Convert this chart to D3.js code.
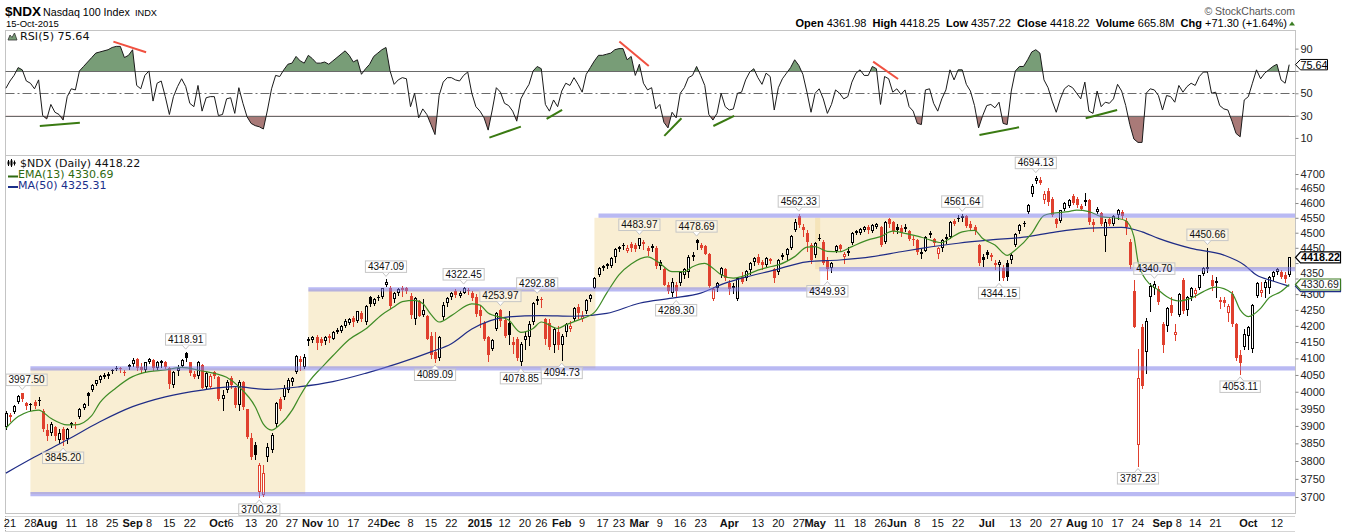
<!DOCTYPE html>
<html><head><meta charset="utf-8">
<script src="https://cdn.jsdelivr.net/npm/d3@7"></script>
<style>
html,body{margin:0;padding:0;background:#fff;}
svg{display:block;}
text{font-family:"Liberation Sans",Arial,sans-serif;}
.dv{font-family:"DejaVu Sans",Verdana,sans-serif;}
</style></head><body>
<svg id="c" width="1355" height="532"></svg>
<script>
// ---------------- DATA ----------------
const holidays = ["2014-09-01","2014-11-27","2014-12-25","2015-01-01","2015-01-19","2015-02-16","2015-04-03","2015-05-25","2015-07-03","2015-09-07"];
const firstDay = "2014-07-18", lastDay = "2015-10-15";
const prevClose0 = 3880;
// daily [open, high, low, close] from 2014-07-18 to 2015-10-15
const candles = [
[3898,3942,3892,3938],[3932,3937,3915,3926],[3940,3962,3938,3958],[3970,3990,3966,3986],[3995,3997.5,3972,3978],
[3966,3970,3950,3958],[3962,3968,3945,3963],[3970,3976,3952,3958],[3972,3985,3962,3976],[3942,3948,3885,3890],
[3888,3905,3860,3872],[3880,3910,3875,3905],[3898,3900,3860,3870],[3860,3890,3850,3880],[3892,3896,3845.2,3860],
[3862,3895,3850,3892],[3902,3912,3898,3908],[3906,3910,3895,3902],[3925,3952,3922,3950],[3952,3968,3948,3965],
[3995,3999,3960,3988],[4005,4022,4002,4020],[4023,4036,4020,4035],[4036,4050,4030,4048],[4045,4055,4040,4050],
[4048,4058,4040,4054],[4062,4068,4055,4066],[4072,4076,4064,4070],[4070,4075,4060,4067],[4055,4066,4050,4060],
[4075,4082,4068,4080],[4082,4100,4078,4095],[4098,4102,4066,4072],[4075,4085,4060,4066],[4066,4090,4058,4088],
[4090,4102,4085,4098],[4095,4098,4065,4070],[4072,4092,4068,4090],[4085,4095,4075,4093],[4090,4093,4070,4075],
[4072,4075,4012,4022],[4020,4062,4015,4058],[4062,4080,4050,4072],[4078,4098,4075,4095],[4115,4118.91,4092,4100],
[4088,4090,4050,4057],[4052,4062,4040,4045],[4048,4092,4040,4088],[4080,4082,4010,4012],[4015,4058,4012,4055],
[4015,4052,4010,4048],[4058,4062,4040,4046],[4045,4048,3975,3980],[3978,4005,3945,3990],[4005,4035,4000,4030],
[4040,4048,4012,4020],[4010,4015,3955,3960],[3960,4035,3945,4030],[4028,4032,3950,3955],[3948,3950,3865,3868],
[3865,3880,3805,3812],[3845,3855,3805,3818],[3715,3795,3700.23,3790],[3705,3790,3703,3765],[3812,3850,3800,3840],
[3830,3880,3825,3875],[3905,3970,3900,3968],[3978,3985,3945,3950],[3985,4020,3978,4012],[4005,4040,4000,4035],
[4030,4045,4020,4042],[4060,4110,4055,4108],[4098,4108,4065,4090],[4075,4112,4070,4105],[4152,4165,4140,4158],
[4155,4170,4150,4165],[4165,4172,4130,4148],[4160,4165,4140,4146],[4152,4168,4145,4165],[4170,4175,4150,4162],
[4160,4185,4158,4182],[4180,4192,4178,4188],[4185,4202,4180,4200],[4200,4220,4195,4215],[4210,4225,4205,4222],
[4225,4230,4200,4212],[4215,4248,4212,4245],[4240,4245,4215,4222],[4212,4265,4205,4262],[4290,4295,4262,4270],
[4268,4288,4265,4285],[4292,4296,4282,4290],[4290,4320,4288,4318],[4330,4347.09,4325,4340],[4320,4325,4255,4262],
[4285,4308,4275,4305],[4305,4318,4298,4315],[4320,4325,4295,4312],[4318,4322,4305,4310],[4295,4305,4225,4235],
[4220,4292,4205,4288],[4278,4282,4230,4232],[4235,4285,4230,4250],[4230,4235,4158,4160],[4170,4180,4100,4110],
[4120,4180,4089.09,4097],[4100,4170,4095,4165],[4228,4275,4220,4265],[4272,4292,4262,4288],[4290,4308,4285,4302],
[4310,4315,4292,4296],[4295,4310,4292,4305],[4305,4322.45,4302,4318],[4312,4318,4300,4310],[4305,4310,4280,4286],
[4292,4300,4230,4236],[4250,4265,4195,4230],[4210,4215,4155,4160],[4165,4170,4092,4110],[4130,4160,4125,4155],
[4190,4242,4188,4240],[4250,4253.97,4200,4215],[4218,4225,4165,4170],[4210,4245,4145,4172],[4150,4165,4115,4140],
[4160,4165,4095,4100],[4090,4150,4078.85,4145],[4155,4180,4130,4170],[4165,4215,4140,4205],[4212,4275,4205,4272],
[4278,4292.88,4270,4285],[4285,4290,4260,4280],[4220,4225,4145,4160],[4210,4220,4130,4135],[4140,4195,4120,4190],
[4180,4200,4130,4140],[4140,4175,4094.73,4170],[4180,4208,4170,4205],[4190,4215,4185,4200],[4220,4258,4215,4255],
[4260,4268,4225,4240],[4220,4245,4215,4230],[4245,4285,4240,4282],[4285,4300,4278,4298],[4320,4355,4318,4352],
[4360,4388,4358,4385],[4385,4395,4378,4392],[4390,4400,4385,4398],[4390,4420,4388,4418],[4420,4448,4405,4445],
[4445,4455,4440,4452],[4458,4465,4445,4455],[4440,4460,4435,4450],[4462,4468,4440,4448],[4460,4465,4440,4445],
[4455,4483.97,4450,4482],[4470,4475,4445,4462],[4450,4455,4425,4440],[4455,4462,4440,4450],[4450,4455,4385,4390],
[4390,4410,4380,4405],[4380,4385,4328,4330],[4330,4340,4305,4310],[4303,4350,4295,4338],[4330,4340,4289.3,4310],
[4335,4372,4330,4370],[4360,4385,4350,4380],[4370,4425,4355,4420],[4425,4435,4410,4420],[4475,4478.69,4445,4465],
[4458,4465,4445,4450],[4455,4460,4428,4430],[4430,4432,4322,4325],[4285,4322,4280,4315],[4320,4340,4310,4335],
[4360,4388,4355,4385],[4380,4385,4345,4350],[4335,4345,4300,4315],[4325,4335,4305,4320],[4285,4352,4280,4350],
[4355,4370,4335,4340],[4350,4378,4345,4375],[4378,4402,4365,4400],[4405,4420,4395,4415],[4420,4428,4398,4400],
[4405,4410,4380,4395],[4395,4420,4390,4415],[4408,4418,4400,4412],[4380,4385,4340,4350],[4370,4412,4365,4410],
[4425,4432,4412,4420],[4425,4448,4410,4445],[4450,4492,4445,4490],[4510,4545,4505,4535],[4555,4562.33,4520,4525],
[4520,4528,4490,4510],[4500,4510,4440,4470],[4460,4465,4400,4410],[4425,4470,4420,4465],[4482,4495,4475,4478],
[4470,4475,4398,4400],[4410,4420,4349.93,4380],[4385,4405,4370,4400],[4440,4460,4435,4455],[4458,4462,4440,4445],
[4420,4435,4400,4430],[4440,4452,4425,4432],[4465,4502,4462,4500],[4500,4510,4495,4505],[4498,4515,4495,4512],
[4510,4522,4505,4520],[4520,4525,4500,4510],[4505,4528,4502,4525],[4520,4532,4515,4528],[4520,4522,4455,4460],
[4470,4538,4465,4535],[4545,4548,4520,4528],[4535,4538,4500,4505],[4518,4530,4498,4510],[4515,4525,4490,4500],
[4520,4528,4505,4512],[4505,4510,4475,4480],[4480,4488,4460,4475],[4475,4478,4430,4435],[4430,4445,4415,4435],
[4440,4490,4438,4487],[4498,4505,4485,4492],[4478,4482,4460,4465],[4430,4452,4415,4450],[4448,4478,4440,4475],
[4478,4495,4465,4485],[4485,4540,4482,4535],[4540,4545,4525,4530],[4550,4558,4540,4545],[4555,4561.64,4540,4550],
[4555,4558,4518,4522],[4530,4538,4510,4515],[4520,4525,4495,4505],[4460,4462,4395,4400],[4420,4430,4392,4410],
[4435,4442,4418,4425],[4425,4432,4410,4420],[4400,4410,4380,4395],[4395,4410,4344.15,4405],[4385,4395,4345,4350],
[4400,4410,4345,4355],[4410,4432,4400,4425],[4460,4498,4455,4495],[4505,4528,4500,4525],[4532,4540,4522,4528],
[4570,4598,4565,4595],[4630,4665,4625,4660],[4675,4694.13,4668,4685],[4680,4688,4665,4670],[4610,4640,4600,4630],
[4640,4650,4595,4605],[4615,4622,4555,4560],[4545,4550,4520,4530],[4540,4578,4535,4575],[4580,4602,4575,4600],
[4590,4615,4585,4610],[4625,4630,4598,4600],[4615,4620,4585,4595],[4590,4598,4575,4580],[4612,4635,4595,4603],
[4610,4615,4530,4535],[4535,4545,4505,4525],[4570,4585,4565,4580],[4565,4570,4525,4530],[4490,4545,4440,4535],
[4545,4552,4525,4530],[4530,4560,4525,4555],[4560,4580,4545,4575],[4570,4578,4550,4555],[4540,4548,4495,4520],
[4470,4480,4385,4393],[4310,4345,4195,4198],[3845,4130,3787.23,4040],[4195,4205,4010,4016],[4120,4225,4055,4215],
[4290,4335,4245,4325],[4320,4340.7,4300,4332],[4315,4325,4270,4275],[4205,4212,4120,4140],[4200,4258,4185,4255],
[4265,4290,4235,4240],[4172,4205,4155,4180],[4235,4302,4230,4300],[4345,4350,4240,4245],[4250,4295,4235,4290],
[4290,4322,4280,4320],[4300,4318,4292,4312],[4320,4362,4315,4360],[4365,4388,4360,4385],[4380,4450.66,4370,4388],
[4345,4360,4312,4325],[4342,4355,4290,4335],[4280,4290,4255,4275],[4282,4292,4262,4272],[4240,4268,4215,4262],
[4300,4310,4200,4205],[4205,4210,4095,4100],[4110,4125,4053.11,4085],[4135,4190,4130,4175],[4170,4200,4130,4195],
[4130,4268,4120,4265],[4295,4340,4290,4335],[4305,4340,4295,4312],[4320,4345,4290,4338],[4318,4358,4305,4355],
[4355,4375,4345,4372],[4370,4385,4365,4380],[4370,4378,4350,4355],[4362,4370,4340,4346.92],[4361.98,4418.25,4357.22,4418.22]
];
// RSI(5) per bar
const rsi = [
54.5,61,66,73,71,61,59,54,62,30,27,40,33,31,26,47,54,53,70,74,78,82,86,87,88,89,91,92,92,82,
84,89,57,54,66,70,43,59,61,47,31,47,56,63,56,41,38,57,34,46,47,47,30,31,45,46,32,55,41,29,
23,21,20,18,35,54,66,65,71,76,77,83,79,77,84,81,77,77,78,76,79,82,85,88,84,78,80,67,72,76,
83,86,89,91,70,58,62,64,63,38,50,28,36,31,22,13,48,60,64,64,62,61,66,69,50,38,34,28,17,35,
55,51,41,39,34,25,45,52,58,70,74,72,40,34,44,38,52,59,57,64,58,51,67,73,79,84,84,85,86,89,
90,90,80,83,66,76,59,53,55,36,40,24,19,33,28,50,55,64,66,74,66,57,31,26,32,50,38,35,36,50,
51,62,69,72,64,58,68,65,35,55,63,68,73,80,75,67,51,33,50,54,45,32,40,53,50,45,47,60,68,71,
66,66,74,72,40,65,63,51,54,49,53,38,34,23,22,53,54,41,34,45,53,71,62,71,71,58,52,39,19,30,
39,40,37,42,23,22,52,70,74,74,80,87,89,86,62,55,43,33,45,54,57,55,50,45,60,34,32,52,38,42,
41,45,58,52,39,22,9,6,6,50,54,53,48,35,48,47,42,57,51,56,59,57,65,69,69,50,51,39,36,35,
25,14,11,44,47,59,71,63,68,71,74,76,62,59,75.64
];
// EMA(13) read at bar positions [bar, value]
const ema13 = [[0,3893],[3,3927],[8,3946],[11,3922],[15,3903],[17,3903],[21,3930],[23,3968],[27,4012],[31,4045],[35,4060],[39,4065],[43,4073],[48,4062],[51,4055],[54,4043],[57,4015],[61,3956],[63,3905],[65,3888],[67,3903],[70,3945],[72,3988],[74,4027],[78,4082],[80,4108],[84,4158],[88,4190],[92,4235],[95,4260],[97,4276],[100,4280],[102,4270],[104,4236],[106,4212],[109,4232],[114,4269],[116,4265],[118,4240],[123,4218],[126,4180],[129,4192],[131,4212],[135,4192],[137,4203],[140,4218],[144,4242],[147,4303],[150,4362],[153,4397],[157,4420],[160,4399],[163,4372],[166,4372],[168,4388],[171,4399],[173,4383],[175,4362],[178,4351],[180,4356],[184,4377],[187,4388],[189,4394],[193,4421],[196,4452],[198,4454],[201,4438],[204,4437],[207,4454],[211,4476],[214,4487],[217,4505],[220,4498],[224,4485],[229,4467],[231,4481],[234,4503],[237,4508],[239,4481],[242,4459],[245,4425],[247,4443],[251,4498],[254,4558],[256,4565],[260,4571],[262,4576],[265,4571],[268,4554],[272,4548],[274,4540],[276,4487],[277,4405],[279,4345],[282,4313],[284,4292],[287,4278],[290,4287],[293,4308],[296,4322],[300,4303],[302,4250],[304,4229],[307,4255],[309,4287],[312,4308],[314,4330.69]];
// MA(50) read at bar positions [bar, value]
const ma50 = [[0,3766],[7,3811],[15,3860],[23,3912],[31,3956],[39,3985],[48,4005],[56,4015],[64,4007],[72,4015],[80,4030],[88,4055],[96,4085],[104,4120],[109,4145],[114,4190],[123,4228],[131,4232],[139,4230],[147,4239],[155,4271],[163,4287],[170,4303],[176,4335],[180,4351],[188,4377],[196,4404],[204,4410],[212,4421],[219,4437],[224,4448],[233,4465],[241,4476],[249,4485],[257,4503],[265,4515],[273,4518],[278,4503],[282,4481],[290,4448],[298,4426],[303,4394],[306,4361],[310,4342],[314,4325.31]];
// high / low annotations [bar, value, type]
const hiLo = [[4,"3997.50","h"],[14,"3845.20","l"],[44,"4118.91","h"],[62,"3700.23","l"],[93,"4347.09","h"],[105,"4089.09","l"],[112,"4322.45","h"],[121,"4253.97","h"],[126,"4078.85","l"],[130,"4292.88","h"],[136,"4094.73","l"],[155,"4483.97","h"],[164,"4289.30","l"],[169,"4478.69","h"],[194,"4562.33","h"],[201,"4349.93","l"],[234,"4561.64","h"],[243,"4344.15","l"],[252,"4694.13","h"],[281,"4340.70","h"],[277,"3787.23","l"],[294,"4450.66","h"],[302,"4053.11","l"]];
// horizontal annotation lines [price, startDate, endDate(null = right edge)]
const hLines = [[4070,"2014-07-28",null],[3708,"2014-07-28",null],[4315,"2014-10-31","2015-05-04"],[4557,"2015-02-13",null],[4380,"2015-05-04",null]];
// shaded zones [startDate, endDate, lowPrice, highPrice]
const zones = [["2014-07-28","2014-10-30",3708,4070],["2014-10-31","2015-02-12",4070,4315],["2015-02-12","2015-05-04",4315,4550],["2015-05-01",null,4380,4550]];
// RSI divergence lines [bar0, rsi0, bar1, rsi1, colour]
const rsiLines = [[26.3,96.3,34.3,86.7,"r"],[150.1,96.3,157.3,74.5,"r"],[212.2,78.4,218.3,62.8,"r"],
 [8.3,20.7,18.1,23.7,"g"],[118.3,10.3,126,20.1,"g"],[132.3,27,136.1,35.1,"g"],[161.1,11.8,165.3,27.6,"g"],[173.1,20.7,178.2,29.7,"g"],[238.2,12.7,247.9,19.6,"g"],[264.2,27.6,271.9,35.1,"g"]];
const priceTicks = [3700,3750,3800,3850,3900,3950,4000,4050,4100,4150,4200,4250,4300,4350,4400,4450,4500,4550,4600,4650,4700];
const rsiTicks = [10,30,50,70,90];
// tick labels hidden behind the value tags on the right
const coveredTicks = [4400, 70];
const xTicks = [["2014-07-21","21"],["2014-07-28","28"],["2014-08-01","Aug",1],["2014-08-11","11"],["2014-08-18","18"],["2014-08-25","25"],["2014-09-02","Sep",1],["2014-09-08","8"],["2014-09-15","15"],["2014-09-22","22"],["2014-10-01","Oct",1],["2014-10-06","6"],["2014-10-13","13"],["2014-10-20","20"],["2014-10-27","27"],["2014-11-03","Nov",1],["2014-11-10","10"],["2014-11-17","17"],["2014-11-24","24"],["2014-12-01","Dec",1],["2014-12-08","8"],["2014-12-15","15"],["2014-12-22","22"],["2015-01-02","2015",1],["2015-01-12","12"],["2015-01-20","20"],["2015-01-26","26"],["2015-02-02","Feb",1],["2015-02-09","9"],["2015-02-17","17"],["2015-02-23","23"],["2015-03-02","Mar",1],["2015-03-09","9"],["2015-03-16","16"],["2015-03-23","23"],["2015-04-01","Apr",1],["2015-04-13","13"],["2015-04-20","20"],["2015-04-27","27"],["2015-05-01","May",1],["2015-05-11","11"],["2015-05-18","18"],["2015-05-26","26"],["2015-06-01","Jun",1],["2015-06-08","8"],["2015-06-15","15"],["2015-06-22","22"],["2015-07-01","Jul",1],["2015-07-13","13"],["2015-07-20","20"],["2015-07-27","27"],["2015-08-03","Aug",1],["2015-08-10","10"],["2015-08-17","17"],["2015-08-24","24"],["2015-09-01","Sep",1],["2015-09-08","8"],["2015-09-14","14"],["2015-09-21","21"],["2015-10-01","Oct",1],["2015-10-12","12"]];
const quote = [["Open","4361.98"],["High","4418.25"],["Low","4357.22"],["Close","4418.22"],["Volume","665.8M"],["Chg","+71.30 (+1.64%)"]];

// ---------------- SCALES ----------------
const fmt = d3.utcFormat("%Y-%m-%d");
const pd = s => new Date(s + "T00:00:00Z");
const dates = d3.utcDay.range(pd(firstDay), d3.utcDay.offset(pd(lastDay), 1))
  .filter(d => d.getUTCDay() !== 0 && d.getUTCDay() !== 6).map(fmt)
  .filter(s => !holidays.includes(s));
const N = Math.min(dates.length, candles.length);
const x = d3.scalePoint().domain(dates).range([5.9, 1289.2]);
const xi = d3.scaleLinear().domain([0, dates.length - 1]).range([5.9, 1289.2]);
const y = d3.scaleLog().domain([3700, 4700]).range([497, 174]);
const yR = d3.scaleLinear().domain([0, 100]).range([149.1, 37.45]);
const L = 5.5, R = 1295.5;

const svg = d3.select("#c");
const RED = "#e0402e";

// ---------------- HEADER ----------------
svg.append("text").attr("x", 5).attr("y", 15.5).attr("font-size", 13.5).attr("font-weight", "bold").text("$NDX");
svg.append("text").attr("x", 43).attr("y", 15.5).attr("font-size", 10.7).text("Nasdaq 100 Index");
svg.append("text").attr("x", 135).attr("y", 15.5).attr("font-size", 9.2).text("INDX");
svg.append("text").attr("x", 6).attr("y", 27).attr("font-size", 9.5).text("15-Oct-2015");
svg.append("text").attr("x", 1295).attr("y", 15).attr("text-anchor", "end").attr("font-size", 10.5).attr("fill", "#555").text("\u00A9 StockCharts.com");
const qt = svg.append("text").attr("x", 1287).attr("y", 26.7).attr("text-anchor", "end").attr("font-size", 11).attr("xml:space", "preserve");
quote.forEach((q, i) => {
  qt.append("tspan").attr("font-weight", "bold").text((i ? "  " : "") + q[0]);
  qt.append("tspan").text(" " + q[1]);
});
svg.append("path").attr("d", "M1289,25.5 L1292,21.5 L1295,25.5 Z").attr("fill", "#3a7d22");

// ---------------- RSI PANEL ----------------
svg.append("rect").attr("x", L).attr("y", 30.5).attr("width", R - L).attr("height", 125).attr("fill", "none").attr("stroke", "#c4c4c4");
const rsiData = rsi.slice(0, dates.length).map((v, i) => [i, v]);
const defs = svg.append("defs");
defs.append("clipPath").attr("id", "above70").append("rect").attr("x", 0).attr("y", 0).attr("width", 1355).attr("height", yR(70));
defs.append("clipPath").attr("id", "below30").append("rect").attr("x", 0).attr("y", yR(30)).attr("width", 1355).attr("height", 200);
svg.append("path").datum(rsiData).attr("clip-path", "url(#above70)").attr("fill", "#789d77")
  .attr("d", d3.area().x(d => xi(d[0])).y0(yR(70)).y1(d => yR(d[1])));
svg.append("path").datum(rsiData).attr("clip-path", "url(#below30)").attr("fill", "#a97a78")
  .attr("d", d3.area().x(d => xi(d[0])).y0(yR(30)).y1(d => yR(d[1])));
[70, 30].forEach(v => svg.append("line").attr("x1", L).attr("x2", R).attr("y1", Math.round(yR(v)) + 0.5).attr("y2", Math.round(yR(v)) + 0.5).attr("stroke", "#6a6a6a"));
svg.append("line").attr("x1", L).attr("x2", R).attr("y1", Math.round(yR(50)) + 0.5).attr("y2", Math.round(yR(50)) + 0.5).attr("stroke", "#6a6a6a").attr("stroke-dasharray", "9,3,2,3");
svg.append("path").datum(rsiData).attr("fill", "none").attr("stroke", "#1a1a1a").attr("stroke-width", 1)
  .attr("d", d3.line().x(d => xi(d[0])).y(d => yR(d[1])));
rsiLines.forEach(l => svg.append("line").attr("x1", xi(l[0])).attr("y1", yR(l[1])).attr("x2", xi(l[2])).attr("y2", yR(l[3]))
  .attr("stroke", l[4] === "r" ? "#f05040" : "#3a7a12").attr("stroke-width", 2));
const rAx = svg.append("g").attr("transform", `translate(${R},0)`)
  .call(d3.axisRight(yR).tickValues(rsiTicks).tickSize(3).tickPadding(2));
rAx.select(".domain").remove();
rAx.selectAll("text").attr("font-size", 11).attr("font-family", "Liberation Sans, Arial").attr("fill", "#222");
rAx.selectAll("line").attr("stroke", "#888");
rAx.selectAll(".tick text").filter(d => coveredTicks.includes(d)).remove();
// RSI legend
svg.append("path").attr("d", "M8,40 L10,35 L12,37.5 L14.5,33 L17,40 Z").attr("fill", "#789d77").attr("stroke", "#333").attr("stroke-width", 0.8);
svg.append("text").attr("class", "dv").attr("x", 20).attr("y", 40).attr("font-size", 11.2).attr("fill", "#111").text("RSI(5) 75.64");

// ---------------- PRICE PANEL ----------------
svg.append("rect").attr("x", L).attr("y", 155.5).attr("width", R - L).attr("height", 358).attr("fill", "none").attr("stroke", "#c4c4c4");
const xd = d => d === null ? R - 0.5 : x(d);
const gz = svg.append("g");
zones.forEach(z => gz.append("rect").attr("x", xd(z[0])).attr("width", xd(z[1]) - xd(z[0]) + (z[1] ? 1 : 0))
  .attr("y", y(z[3])).attr("height", y(z[2]) - y(z[3])).attr("fill", "rgb(240,215,150)").attr("fill-opacity", 0.42));

const gc = svg.append("g").attr("shape-rendering", "crispEdges");
for (let i = 0; i < N; i++) {
  const [o, h, l, c] = candles[i];
  const prev = i > 0 ? candles[i - 1][3] : prevClose0;
  const col = c >= prev ? "#000" : RED;
  const cx = Math.round(x(dates[i]));
  gc.append("line").attr("x1", cx + 0.5).attr("x2", cx + 0.5).attr("y1", Math.round(y(h))).attr("y2", Math.round(y(l)) + 1).attr("stroke", col);
  const top = Math.round(y(Math.max(o, c))), bot = Math.round(y(Math.min(o, c)));
  if (c > o && bot - top >= 2) {
    gc.append("rect").attr("x", cx - 0.5).attr("y", top + 0.5).attr("width", 2).attr("height", bot - top - 1)
      .attr("fill", "#fff").attr("stroke", col);
  } else {
    gc.append("rect").attr("x", cx - 1).attr("y", top).attr("width", 3).attr("height", Math.max(1, bot - top)).attr("fill", col);
  }
}
const lineGen = d3.line().x(d => xi(d[0])).y(d => y(d[1])).curve(d3.curveMonotoneX);
svg.append("path").datum(ma50).attr("fill", "none").attr("stroke", "#1f2c86").attr("stroke-width", 1.2).attr("d", lineGen);
svg.append("path").datum(ema13).attr("fill", "none").attr("stroke", "#3f8c26").attr("stroke-width", 1.2).attr("d", lineGen);

hLines.forEach(h => svg.append("line").attr("x1", xd(h[1])).attr("x2", xd(h[2])).attr("y1", y(h[0])).attr("y2", y(h[0]))
  .attr("stroke", "rgb(120,120,232)").attr("stroke-opacity", 0.52).attr("stroke-width", 4.2));

// high / low labels
const gl = svg.append("g");
hiLo.forEach(a => {
  const i = a[0], v = +a[1], cx = x(dates[i]), yv = y(v);
  const t = gl.append("text").attr("font-size", 10).attr("text-anchor", "middle").attr("fill", "#111").text(a[1]);
  const w = t.node().getComputedTextLength() + 5, hgt = 11.5;
  let bx = Math.max(L + 0.5, cx - w / 2);
  let by = a[2] === "h" ? yv - 7 - hgt : yv + 7;
  gl.insert("rect", "text").attr("x", bx).attr("y", by).attr("width", w).attr("height", hgt)
    .attr("fill", "#fff").attr("fill-opacity", 0.35).attr("stroke", "#c6c6c6");
  t.attr("x", bx + w / 2).attr("y", by + 9.3);
  const py = a[2] === "h" ? by + hgt : by;
  const tip = a[2] === "h" ? yv - 3 : yv + 3;
  gl.append("path").attr("d", `M${cx - 3.5},${py} L${cx},${tip} L${cx + 3.5},${py}`).attr("fill", "#fff").attr("stroke", "#c6c6c6");
});

// price axis
const pAx = svg.append("g").attr("transform", `translate(${R},0)`)
  .call(d3.axisRight(y).tickValues(priceTicks).tickSize(3).tickPadding(2).tickFormat(d3.format("d")));
pAx.select(".domain").remove();
pAx.selectAll("text").attr("font-size", 11).attr("font-family", "Liberation Sans, Arial").attr("fill", "#222");
pAx.selectAll("line").attr("stroke", "#888");
pAx.selectAll(".tick text").filter(d => coveredTicks.includes(d)).remove();
// label just above the EMA tag: nudge up so it stays clear of the tag text
pAx.selectAll(".tick text").filter(d => d === 4350).attr("dy", "-0.22em").attr("font-size", 10.5);

// right-side value tags
function tagBox(yy, border) {
  return svg.append("path").attr("d", `M${R},${yy} L${R + 5},${yy - 5.5} L${R + 45},${yy - 5.5} L${R + 45},${yy + 5.5} L${R + 5},${yy + 5.5} Z`)
    .attr("fill", "#fff").attr("stroke", border).attr("stroke-width", 1.2);
}
function tag(yy, txt, border, bold, col) {
  tagBox(yy, border);
  svg.append("text").attr("x", R + 5.5).attr("y", yy + 4).attr("font-size", bold ? 10.8 : 10.5).attr("font-weight", bold ? "bold" : "normal").attr("fill", col).text(txt);
}
tagBox(y(4325.31), "#1f2c86");           // MA(50) tag, hidden under the EMA tag
tag(y(4330.69), "4330.69", "#3a7a20", false, "#222");
tag(y(4418.22), "4418.22", "#000", true, "#000");
// RSI tag
(function () {
  const yy = yR(75.64);
  svg.append("path").attr("d", `M${R},${yy} L${R + 5},${yy - 5.2} L${R + 32},${yy - 5.2} L${R + 32},${yy + 5.2} L${R + 5},${yy + 5.2} Z`)
    .attr("fill", "#fff").attr("stroke", "#000");
  svg.append("text").attr("x", R + 5).attr("y", yy + 4).attr("font-size", 10.8).text("75.64");
})();

// price legend
const lg = svg.append("g");
[[8.5,160,166],[11.5,159,167],[14.5,160.5,165.5]].forEach(b => {
  lg.append("line").attr("x1", b[0]).attr("x2", b[0]).attr("y1", b[1]).attr("y2", b[2]).attr("stroke", "#000");
  lg.append("rect").attr("x", b[0] - 1).attr("y", b[1] + 1.5).attr("width", 2).attr("height", b[2] - b[1] - 3).attr("fill", "#000");
});
lg.append("text").attr("class", "dv").attr("x", 20).attr("y", 166.7).attr("font-size", 11).attr("fill", "#111").text("$NDX (Daily) 4418.22");
lg.append("rect").attr("x", 8).attr("y", 175.5).attr("width", 10).attr("height", 2).attr("fill", "#2f6a10");
lg.append("text").attr("class", "dv").attr("x", 18).attr("y", 178.3).attr("font-size", 11).attr("fill", "#2f6a10").text("EMA(13) 4330.69");
lg.append("rect").attr("x", 8).attr("y", 186).attr("width", 10).attr("height", 2).attr("fill", "#1a2f8a");
lg.append("text").attr("class", "dv").attr("x", 18).attr("y", 189).attr("font-size", 11).attr("fill", "#1a2f8a").text("MA(50) 4325.31");

// ---------------- X AXIS ----------------
const xa = svg.append("g");
xa.append("line").attr("x1", L).attr("x2", R).attr("y1", 516.5).attr("y2", 516.5).attr("stroke", "#aaa").attr("stroke-dasharray", "1,1");
xa.append("line").attr("x1", L).attr("x2", R).attr("y1", 531.5).attr("y2", 531.5).attr("stroke", "#aaa").attr("stroke-dasharray", "1,1");
xa.append("line").attr("x1", L).attr("x2", L).attr("y1", 516).attr("y2", 532).attr("stroke", "#aaa").attr("stroke-dasharray", "1,1");
xTicks.forEach(t => xa.append("text").attr("x", x(t[0])).attr("y", 527.3).attr("text-anchor", "middle")
  .attr("font-size", 11).attr("font-weight", t[2] ? "bold" : "normal").attr("fill", "#111").text(t[1]));
</script>
</body></html>
